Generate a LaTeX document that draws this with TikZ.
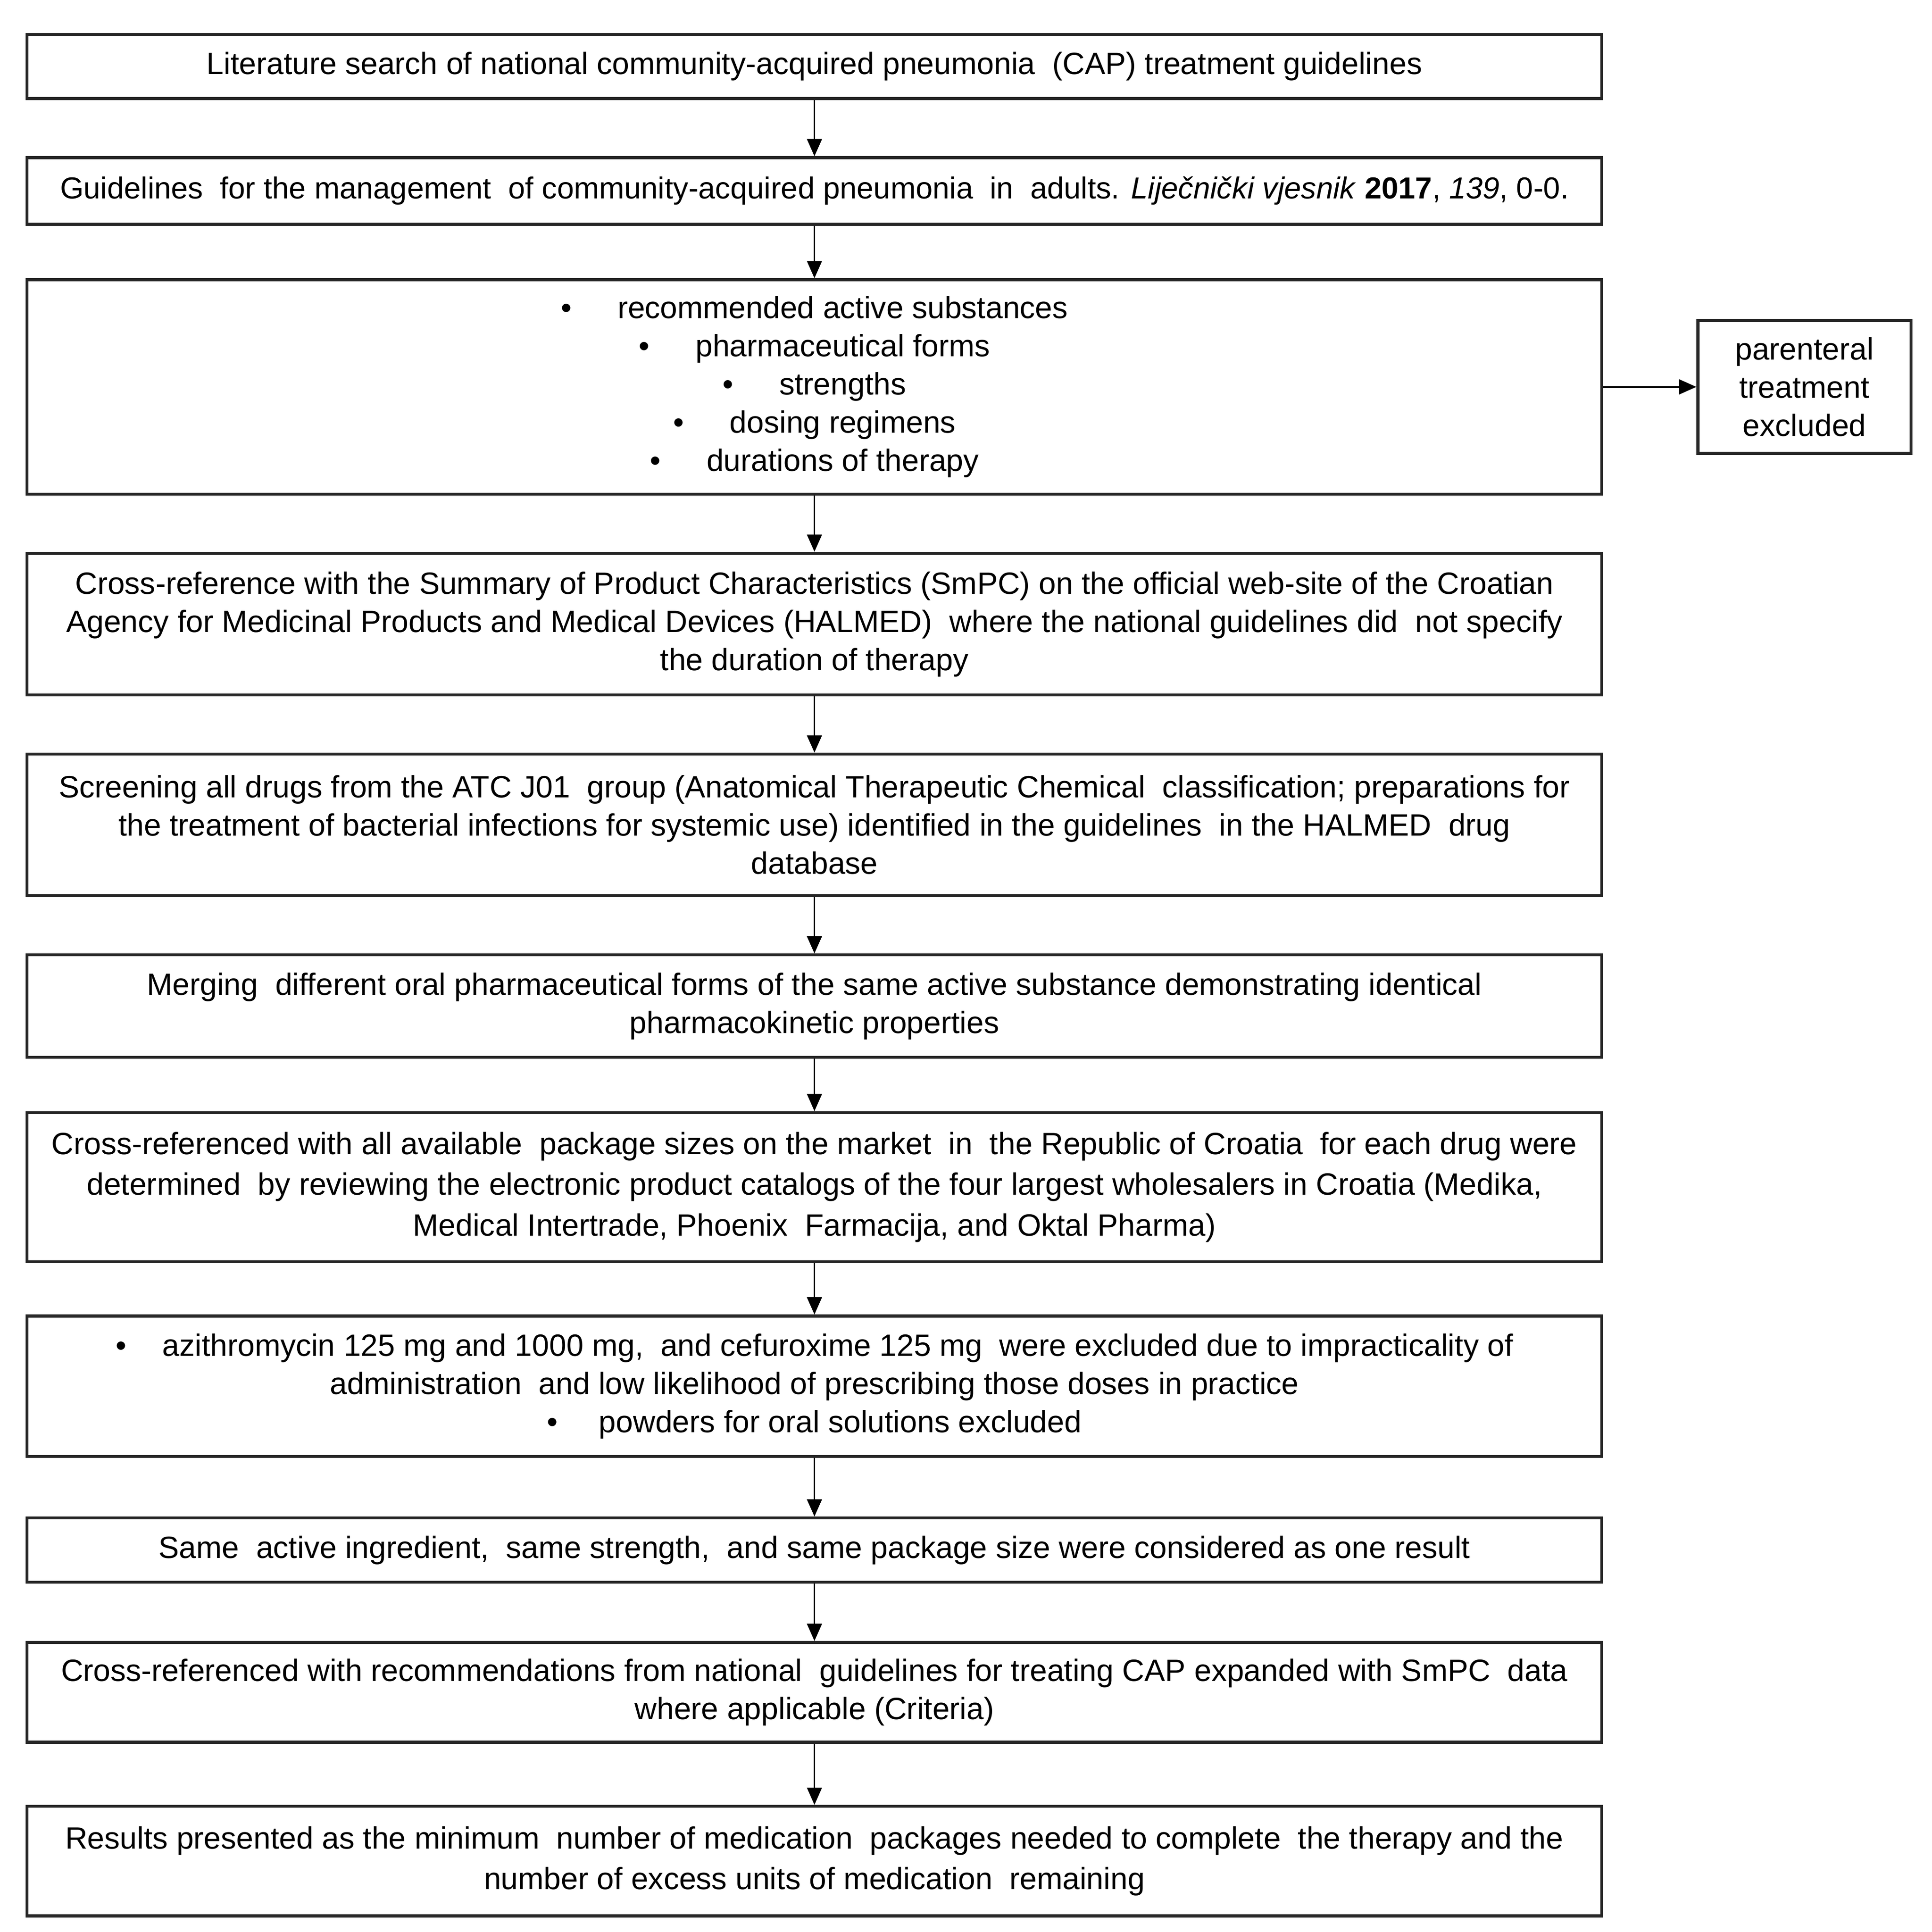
\documentclass[tikz,border=0pt]{standalone}
\usepackage{fontspec}
\setmainfont{Liberation Sans}
\usetikzlibrary{arrows.meta}
\begin{document}
\begin{tikzpicture}[x=0.5pt,y=-0.5pt,
 box/.style={draw=black!85, line width=1.2pt, rectangle, minimum width=639pt, inner sep=0pt, align=center, font=\fontsize{12.5}{15.5}\selectfont},
 wide/.style={font=\fontsize{12.5}{16.5}\selectfont},
 tight/.style={font=\fontsize{12.3}{15.5}\selectfont},
 sidebox/.style={box, minimum width=86.5pt, minimum height=54pt},
 arr/.style={line width=0.7pt, -{Triangle[length=7pt,width=6pt]}}]
\useasboundingbox (0,0) rectangle (1568,1568);
\newcommand{\bul}[1]{\makebox[23pt][l]{•}#1}
\node[box, minimum height=26pt] (b1) at (661,54) {Literature search of national community-acquired pneumonia\ \ (CAP) treatment guidelines};
\node[box, tight, minimum height=27pt] (b2) at (661,155) {Guidelines\ \ for the management\ \ of community-acquired pneumonia\ \ in\ \ adults. \textit{Liječnički vjesnik} \textbf{2017}, \textit{139}, 0-0.};
\node[box, minimum height=87pt] (b3) at (661,314) {\bul{recommended active substances}\\ \bul{pharmaceutical forms}\\ \bul{strengths}\\ \bul{dosing regimens}\\ \bul{durations of therapy}};
\node[sidebox] (s) at (1464.5,314) {parenteral\\treatment\\excluded};
\node[box, minimum height=57.5pt] (b4) at (661,506.5) {Cross-reference with the Summary of Product Characteristics (SmPC) on the official web-site of the Croatian\\ Agency for Medicinal Products and Medical Devices (HALMED)\ \ where the national guidelines did\ \ not specify\\ the duration of therapy};
\node[box, minimum height=57.5pt] (b5) at (661,669.5) {Screening all drugs from the ATC J01\ \ group (Anatomical Therapeutic Chemical\ \ classification; preparations for\\ the treatment of bacterial infections for systemic use) identified in the guidelines\ \ in the HALMED\ \ drug\\ database};
\node[box, minimum height=41.5pt] (b6) at (661,816.5) {Merging\ \ different oral pharmaceutical forms of the same active substance demonstrating identical\\ pharmacokinetic properties};
\node[box, wide, minimum height=60.5pt] (b7) at (661,963.5) {Cross-referenced with all available\ \ package sizes on the market\ \ in\ \ the Republic of Croatia\ \ for each drug were\\ determined\ \ by reviewing the electronic product catalogs of the four largest wholesalers in Croatia (Medika,\\ Medical Intertrade, Phoenix\ \ Farmacija, and Oktal Pharma)};
\node[box, minimum height=57pt] (b8) at (661,1125) {\makebox[19pt][l]{•}azithromycin 125 mg and 1000 mg,\ \ and cefuroxime 125 mg\ \ were excluded due to impracticality of\\ administration\ \ and low likelihood of prescribing those doses in practice\\ \makebox[21pt][l]{•}powders for oral solutions excluded};
\node[box, minimum height=26pt] (b9) at (661,1258) {Same\ \ active ingredient,\ \ same strength,\ \ and same package size were considered as one result};
\node[box, minimum height=40.5pt] (b10) at (661,1373.5) {Cross-referenced with recommendations from national\ \ guidelines for treating CAP expanded with SmPC\ \ data\\ where applicable (Criteria)};
\node[box, wide, minimum height=44.5pt] (b11) at (661,1510.5) {Results presented as the minimum\ \ number of medication\ \ packages needed to complete\ \ the therapy and the\\ number of excess units of medication\ \ remaining};
\draw[arr] (b1) -- (b2);
\draw[arr] (b2) -- (b3);
\draw[arr] (b3) -- (b4);
\draw[arr] (b4) -- (b5);
\draw[arr] (b5) -- (b6);
\draw[arr] (b6) -- (b7);
\draw[arr] (b7) -- (b8);
\draw[arr] (b8) -- (b9);
\draw[arr] (b9) -- (b10);
\draw[arr] (b10) -- (b11);
\draw[arr] (b3) -- (s);
\end{tikzpicture}
\end{document}
